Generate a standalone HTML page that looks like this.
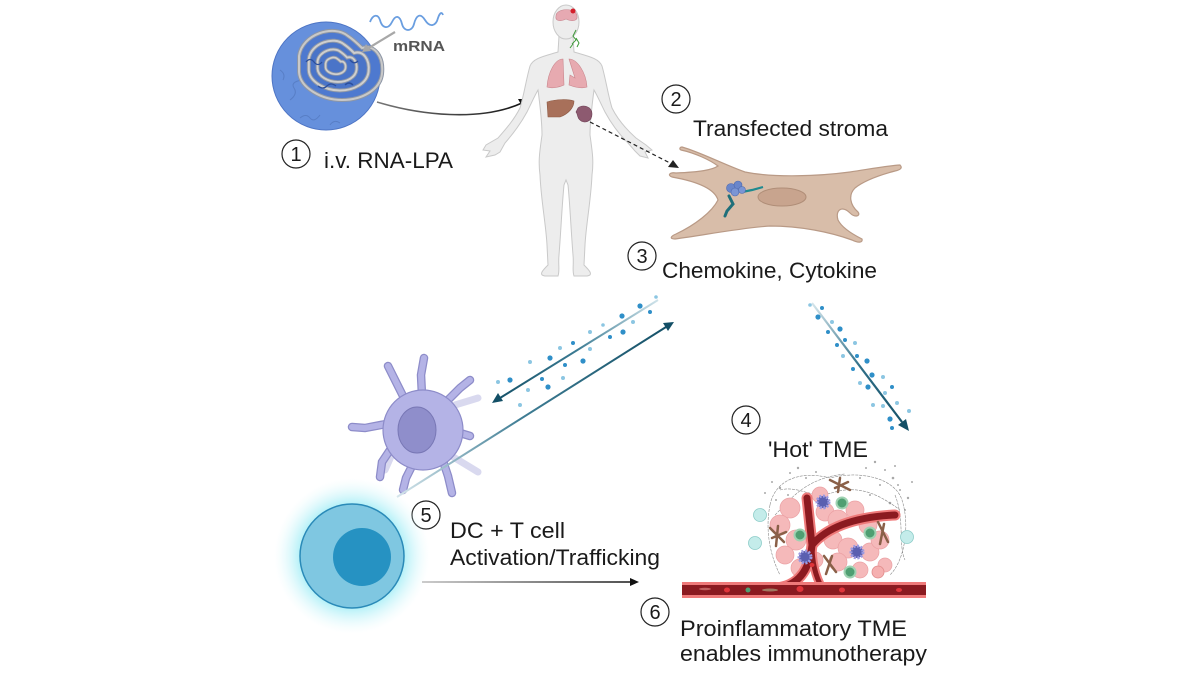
<!DOCTYPE html>
<html><head><meta charset="utf-8"><style>
html,body{margin:0;padding:0;background:#fff;}
svg{display:block;}
text{font-family:"Liberation Sans",Arial,sans-serif;fill:#1a1a1a;}
</style></head><body>
<svg width="1200" height="675" viewBox="0 0 1200 675" xmlns="http://www.w3.org/2000/svg">
<defs>
  <radialGradient id="glow" cx="0.5" cy="0.5" r="0.5">
    <stop offset="0.6" stop-color="#86e8f3" stop-opacity="0.85"/>
    <stop offset="0.8" stop-color="#b8f1f8" stop-opacity="0.45"/>
    <stop offset="1" stop-color="#e4fafc" stop-opacity="0"/>
  </radialGradient>
  <linearGradient id="gUp" gradientUnits="userSpaceOnUse" x1="658" y1="300" x2="493" y2="402">
    <stop offset="0" stop-color="#cfe3ea"/><stop offset="0.5" stop-color="#3a7a92"/><stop offset="1" stop-color="#134f66"/>
  </linearGradient>
  <linearGradient id="gLow" gradientUnits="userSpaceOnUse" x1="397" y1="497" x2="673" y2="323">
    <stop offset="0" stop-color="#d6e6ec"/><stop offset="0.45" stop-color="#3f7d94"/><stop offset="1" stop-color="#134f66"/>
  </linearGradient>
  <linearGradient id="gRight" gradientUnits="userSpaceOnUse" x1="812" y1="303" x2="908" y2="430">
    <stop offset="0" stop-color="#d6e6ec"/><stop offset="0.5" stop-color="#2f6f88"/><stop offset="1" stop-color="#134f66"/>
  </linearGradient>
  <linearGradient id="gHoriz" gradientUnits="userSpaceOnUse" x1="422" y1="582" x2="638" y2="582">
    <stop offset="0" stop-color="#bbbbbb"/><stop offset="1" stop-color="#111"/>
  </linearGradient>
  <linearGradient id="gCurve" gradientUnits="userSpaceOnUse" x1="377" y1="102" x2="527" y2="100">
    <stop offset="0" stop-color="#777"/><stop offset="1" stop-color="#111"/>
  </linearGradient>
  <path id="heart" d="M -35,-10 C -32,-32 0,-42 14,-30 C 20,-26 24,-22 28,-18 C 40,-22 50,-10 48,8 C 46,24 28,34 8,34 C -12,34 -34,22 -35,6 Z"/>
</defs>

<!-- ===== Nanoparticle ===== -->
<circle cx="326" cy="76" r="54" fill="#6690dc" stroke="#4d74c4" stroke-width="1"/>
<path d="M 290,100 q 8,-6 4,-12 t 8,-8 M 300,118 q 6,-5 10,0 t 10,-3 M 330,125 q 4,-6 10,-2 M 280,70 q 6,4 3,10" stroke="#4f73b8" stroke-width="1" fill="none" opacity="0.6"/>
<g transform="translate(334,66)">
  <use href="#heart" fill="#4e79cf" stroke="#8d96a6" stroke-width="4"/>
  <use href="#heart" fill="none" stroke="#c9c9c9" stroke-width="2"/>
  <g transform="scale(0.72)"><use href="#heart" fill="#4a74c8" stroke="#8d96a6" stroke-width="5.5"/><use href="#heart" fill="none" stroke="#cfcfcf" stroke-width="2.8"/></g>
  <g transform="scale(0.47)"><use href="#heart" fill="#4a74c8" stroke="#8d96a6" stroke-width="8"/><use href="#heart" fill="none" stroke="#cfcfcf" stroke-width="4"/></g>
  <g transform="scale(0.24)"><use href="#heart" fill="#4a74c8" stroke="#8d96a6" stroke-width="14"/><use href="#heart" fill="none" stroke="#cfcfcf" stroke-width="7"/></g>
</g>
<path d="M 306,62 q 4,-5 8,0 t 8,0 M 318,86 q 5,4 9,0 t 9,0 M 350,60 q 4,5 8,1 M 345,85 q 4,-4 8,0" stroke="#2c4f9c" stroke-width="1.3" fill="none"/>
<!-- mRNA -->
<path d="M 370,22 C 373,14 378,14 380,20 C 382,28 388,30 392,22 C 396,14 400,16 402,24 C 404,32 412,32 414,24 C 416,16 420,12 425,20 C 430,28 436,26 438,18 C 440,12 442,12 443,15" stroke="#6a9ee0" stroke-width="1.8" fill="none"/>
<line x1="395" y1="32" x2="367" y2="49" stroke="#a8a8a8" stroke-width="2.2"/>
<polygon points="362,52 366,44 371,51" fill="#a8a8a8"/>
<text x="393" y="51" font-size="15" font-weight="bold" style="fill:#555" textLength="52" lengthAdjust="spacingAndGlyphs">mRNA</text>

<!-- curved arrow to body -->
<path d="M 377,102 C 420,115 480,122 522,103" stroke="url(#gCurve)" stroke-width="1.6" fill="none"/>
<polygon points="529,99 518,99 523,108" fill="#111"/>

<!-- ===== Human body ===== -->
<path d="M 559,36 L 558,52 C 545,56 533,58 530,66 C 526,80 524,95 520,108 C 514,120 505,130 498,138 L 486,145 L 483,150 L 490,151 L 486,157 L 495,155 L 500,152 L 505,143 C 512,135 520,125 527,112 C 532,102 535,95 538,90 C 540,105 542,120 542,135 C 540,150 538,160 540,175 C 541,200 546,225 547,245 L 548,265 C 543,270 538,275 545,276 L 558,276 C 560,270 558,265 559,255 C 561,230 562,205 564,185 L 566,180 L 568,185 C 570,205 571,230 573,255 C 574,265 572,270 574,276 L 587,276 C 594,275 589,270 584,265 L 585,245 C 586,225 591,200 592,175 C 594,160 592,150 590,135 C 590,120 592,105 594,90 C 597,95 600,102 605,112 C 612,125 620,135 628,143 L 635,151 L 640,156 L 648,158 L 645,152 L 652,150 L 646,145 L 636,138 C 627,130 618,120 612,108 C 608,95 606,80 602,66 C 599,58 587,56 574,52 L 573,36 Z" fill="#ededed" stroke="#c9c9c9" stroke-width="1"/>
<ellipse cx="566" cy="22" rx="13" ry="17" fill="#ededed" stroke="#c9c9c9" stroke-width="1"/>
<path d="M 556,16 C 556,8 576,7 577,16 C 578,21 572,22 566,19 C 560,22 555,21 556,16 Z" fill="#e6a9b2" stroke="#c98892" stroke-width="0.6"/>
<circle cx="573" cy="11" r="2.5" fill="#d41e2a"/>
<path d="M 576,30 l -3,6 l 3,4 l -4,4 M 576,38 l 3,5 l -2,4 M 573,44 l -3,4" stroke="#3f9a3a" stroke-width="1" fill="none"/>
<path d="M 563,59 C 555,59 548,72 547,87 C 552,89 560,87 564,85 Z" fill="#e7aab0" stroke="#c9868d" stroke-width="0.6"/>
<path d="M 569,59 C 577,59 586,72 587,87 C 582,89 574,87 569,85 L 570,75 L 575,78 Z" fill="#e7aab0" stroke="#c9868d" stroke-width="0.6"/>
<path d="M 547,102 C 556,99 568,99 574,101 C 574,108 568,114 560,117 L 548,117 Z" fill="#a8705a" stroke="#8d5a45" stroke-width="0.6"/>
<path d="M 578,108 C 582,104 592,106 592,114 C 592,122 584,124 580,120 C 577,118 578,114 576,112 Z" fill="#8d5a70" stroke="#6e4055" stroke-width="0.6"/>
<line x1="590" y1="122" x2="672" y2="164" stroke="#222" stroke-width="1.2" stroke-dasharray="4,3"/>
<polygon points="679,168 668,167 673,160" fill="#222"/>

<!-- ===== Fibroblast ===== -->
<path d="M 682,147 C 700,152 725,165 745,172 C 775,178 820,176 850,172 C 870,169 885,166 900,165 C 903,168 900,170 895,171 C 880,175 865,180 855,188 C 848,195 850,205 858,212 C 861,216 855,218 850,213 C 842,205 835,210 838,220 C 842,228 852,234 862,239 C 863,243 858,243 852,240 C 830,232 800,226 770,226 C 740,228 705,235 675,239 C 669,239 671,236 676,234 C 695,225 712,212 718,200 C 715,190 700,182 672,177 C 667,175 670,172 676,173 C 700,172 712,170 718,166 C 710,160 695,153 681,150 C 679,149 680,147 682,147 Z" fill="#d8bda9" stroke="#b99a86" stroke-width="1.2"/>
<ellipse cx="782" cy="197" rx="24" ry="9" fill="#c8a48e" stroke="#b08e78" stroke-width="1"/>
<path d="M 729,196 L 733,204 L 727,211 L 725,216" stroke="#1f6f7a" stroke-width="3" fill="none" stroke-linecap="round"/>
<path d="M 742,192 L 752,190 L 763,187" stroke="#1f8a8f" stroke-width="2.2" fill="none"/>
<circle cx="731" cy="188" r="4.5" fill="#6a86cb" stroke="#4e69ad" stroke-width="0.6"/>
<circle cx="738" cy="185" r="4" fill="#6a86cb" stroke="#4e69ad" stroke-width="0.6"/>
<circle cx="735" cy="192" r="4" fill="#7b95d4" stroke="#4e69ad" stroke-width="0.6"/>
<circle cx="742" cy="190" r="3.5" fill="#7b95d4" stroke="#4e69ad" stroke-width="0.6"/>

<!-- ===== Number circles ===== -->
<g fill="#fff" stroke="#222" stroke-width="1.2">
  <circle cx="296" cy="154" r="14"/>
  <circle cx="676" cy="99" r="14"/>
  <circle cx="642" cy="256" r="14"/>
  <circle cx="746" cy="420" r="14"/>
  <circle cx="426" cy="515" r="14"/>
  <circle cx="655" cy="612" r="14"/>
</g>
<g font-size="20" text-anchor="middle">
  <text x="296" y="161">1</text>
  <text x="676" y="106">2</text>
  <text x="642" y="263">3</text>
  <text x="746" y="427">4</text>
  <text x="426" y="522">5</text>
  <text x="655" y="619">6</text>
</g>

<!-- ===== Labels ===== -->
<g font-size="22">
  <text x="324" y="168" textLength="129" lengthAdjust="spacingAndGlyphs">i.v. RNA-LPA</text>
  <text x="693" y="136" textLength="195" lengthAdjust="spacingAndGlyphs">Transfected stroma</text>
  <text x="662" y="278" textLength="215" lengthAdjust="spacingAndGlyphs">Chemokine, Cytokine</text>
  <text x="768" y="457" textLength="100" lengthAdjust="spacingAndGlyphs">'Hot' TME</text>
  <text x="450" y="538" textLength="115" lengthAdjust="spacingAndGlyphs">DC + T cell</text>
  <text x="450" y="565" textLength="210" lengthAdjust="spacingAndGlyphs">Activation/Trafficking</text>
  <text x="680" y="636" textLength="227" lengthAdjust="spacingAndGlyphs">Proinflammatory TME</text>
  <text x="680" y="661" textLength="247" lengthAdjust="spacingAndGlyphs">enables immunotherapy</text>
</g>

<!-- ===== T cell ===== -->
<circle cx="352" cy="556" r="78" fill="url(#glow)"/>
<circle cx="352" cy="556" r="52" fill="#7fc7e1" stroke="#2a8ab8" stroke-width="1.5"/>
<circle cx="362" cy="557" r="29" fill="#2692c2"/>

<!-- ===== DC ===== -->
<g stroke-linecap="round" fill="none">
  <g stroke="#d9d9ef" stroke-width="7">
    <path d="M 455,405 L 478,398"/><path d="M 450,455 L 478,472"/><path d="M 393,452 L 385,470"/>
  </g>
  <g stroke="#8d8cc9" stroke-width="8.5">
    <path d="M 422,395 L 421,375 L 424,358"/>
    <path d="M 405,400 L 395,380 L 388,366"/>
    <path d="M 446,402 L 460,388 L 470,380"/>
    <path d="M 386,424 L 365,428 L 352,427"/>
    <path d="M 392,447 L 382,462 L 380,477"/>
    <path d="M 414,462 L 406,478 L 403,490"/>
    <path d="M 442,458 L 448,476 L 452,493"/>
    <path d="M 460,433 L 470,436"/>
  </g>
  <g stroke="#b4b3e6" stroke-width="6">
    <path d="M 422,395 L 421,375 L 424,358"/>
    <path d="M 405,400 L 395,380 L 388,366"/>
    <path d="M 446,402 L 460,388 L 470,380"/>
    <path d="M 386,424 L 365,428 L 352,427"/>
    <path d="M 392,447 L 382,462 L 380,477"/>
    <path d="M 414,462 L 406,478 L 403,490"/>
    <path d="M 442,458 L 448,476 L 452,493"/>
    <path d="M 460,433 L 470,436"/>
  </g>
</g>
<circle cx="423" cy="430" r="40" fill="#b4b3e6" stroke="#8d8cc9" stroke-width="1.2"/>
<ellipse cx="417" cy="430" rx="19" ry="23" fill="#8f8ecb" stroke="#7877b5" stroke-width="1"/>

<!-- ===== Arrows ===== -->
<line x1="658" y1="300" x2="500" y2="398" stroke="url(#gUp)" stroke-width="2"/>
<polygon points="492,403 498,393 503,401" fill="#134f66"/>
<line x1="397" y1="497" x2="666" y2="327" stroke="url(#gLow)" stroke-width="2"/>
<polygon points="674,322 663,323 668,331" fill="#134f66"/>
<line x1="812" y1="303" x2="902" y2="422" stroke="url(#gRight)" stroke-width="2.2"/>
<polygon points="909,431 898,425 906,419" fill="#134f66"/>
<line x1="422" y1="582" x2="632" y2="582" stroke="url(#gHoriz)" stroke-width="1.5"/>
<polygon points="639,582 630,578 630,586" fill="#111"/>

<!-- dots -->
<g fill="#2f8fc8">
  <circle cx="640" cy="306" r="2.6"/><circle cx="622" cy="316" r="2.6"/><circle cx="623" cy="332" r="2.6"/>
  <circle cx="583" cy="361" r="2.6"/><circle cx="550" cy="358" r="2.6"/><circle cx="548" cy="387" r="2.6"/>
  <circle cx="510" cy="380" r="2.6"/><circle cx="610" cy="337" r="2"/><circle cx="573" cy="343" r="2"/>
  <circle cx="565" cy="365" r="2"/><circle cx="542" cy="379" r="2"/><circle cx="650" cy="312" r="2"/>
  <circle cx="818" cy="317" r="2.6"/><circle cx="840" cy="329" r="2.6"/><circle cx="867" cy="361" r="2.6"/>
  <circle cx="872" cy="375" r="2.6"/><circle cx="868" cy="387" r="2.6"/><circle cx="890" cy="419" r="2.6"/>
  <circle cx="822" cy="308" r="2"/><circle cx="828" cy="332" r="2"/><circle cx="845" cy="340" r="2"/>
  <circle cx="837" cy="345" r="2"/><circle cx="857" cy="356" r="2"/><circle cx="853" cy="369" r="2"/>
  <circle cx="892" cy="387" r="2"/><circle cx="892" cy="428" r="2"/>
</g>
<g fill="#8cc6e2">
  <circle cx="656" cy="297" r="1.8"/><circle cx="633" cy="322" r="2"/><circle cx="603" cy="325" r="1.8"/>
  <circle cx="590" cy="332" r="2"/><circle cx="590" cy="349" r="2"/><circle cx="560" cy="348" r="2"/>
  <circle cx="563" cy="378" r="2"/><circle cx="530" cy="362" r="2"/><circle cx="528" cy="390" r="2"/>
  <circle cx="498" cy="382" r="2"/><circle cx="520" cy="405" r="2"/>
  <circle cx="810" cy="305" r="1.8"/><circle cx="832" cy="322" r="2"/><circle cx="855" cy="343" r="2"/>
  <circle cx="843" cy="356" r="2"/><circle cx="883" cy="377" r="2"/><circle cx="860" cy="383" r="2"/>
  <circle cx="885" cy="393" r="2"/><circle cx="873" cy="405" r="2"/><circle cx="883" cy="406" r="2"/>
  <circle cx="897" cy="403" r="2"/><circle cx="909" cy="411" r="2"/>
</g>

<!-- ===== Tumour microenvironment ===== -->
<g fill="#a9a9a9">
  <circle cx="790" cy="473" r="1"/><circle cx="798" cy="468" r="1.2"/><circle cx="806" cy="478" r="1"/>
  <circle cx="780" cy="488" r="1.2"/><circle cx="772" cy="482" r="1"/><circle cx="788" cy="495" r="1"/>
  <circle cx="875" cy="462" r="1.2"/><circle cx="885" cy="470" r="1"/><circle cx="893" cy="478" r="1.3"/>
  <circle cx="900" cy="490" r="1"/><circle cx="908" cy="498" r="1.2"/><circle cx="880" cy="485" r="1"/>
  <circle cx="890" cy="503" r="1.3"/><circle cx="870" cy="495" r="1"/><circle cx="912" cy="482" r="1"/>
  <circle cx="860" cy="478" r="1"/><circle cx="895" cy="466" r="1"/><circle cx="905" cy="510" r="1"/>
  <circle cx="776" cy="500" r="1"/><circle cx="765" cy="493" r="1"/><circle cx="866" cy="468" r="1"/>
  <circle cx="898" cy="485" r="1"/><circle cx="816" cy="472" r="1"/>
</g>
<path d="M 770,505 C 775,480 800,470 830,478 C 860,470 895,478 902,500 C 910,525 905,560 890,575 M 770,505 C 765,530 770,555 780,575 M 780,490 C 800,485 810,500 835,492 C 860,485 880,495 900,510 M 775,515 C 790,500 805,478 845,474 M 895,495 C 905,520 898,545 905,560" stroke="#8a8a8a" stroke-width="0.6" fill="none" stroke-dasharray="3,1"/>
<g fill="#f5b9ba" stroke="#eba1a4" stroke-width="0.7">
  <circle cx="790" cy="508" r="10"/><circle cx="780" cy="525" r="10"/><circle cx="796" cy="540" r="10"/>
  <circle cx="785" cy="555" r="9"/><circle cx="800" cy="568" r="9"/><circle cx="825" cy="512" r="9"/>
  <circle cx="838" cy="520" r="10"/><circle cx="855" cy="510" r="9"/><circle cx="868" cy="525" r="9"/>
  <circle cx="833" cy="540" r="9"/><circle cx="848" cy="548" r="10"/><circle cx="870" cy="552" r="9"/>
  <circle cx="880" cy="540" r="9"/><circle cx="838" cy="562" r="9"/><circle cx="860" cy="570" r="8"/>
  <circle cx="815" cy="560" r="8"/><circle cx="820" cy="495" r="8"/><circle cx="885" cy="565" r="7"/>
</g>
<g fill="none" stroke-linecap="round">
  <path d="M 776,588 Q 808,585 812,545 L 807,498" stroke="#ef7a7a" stroke-width="11"/>
  <path d="M 822,588 Q 812,570 812,545" stroke="#ef7a7a" stroke-width="9"/>
  <path d="M 812,545 Q 835,518 895,515" stroke="#ef7a7a" stroke-width="11"/>
  <path d="M 776,588 Q 808,585 812,545 L 807,498" stroke="#8b1a20" stroke-width="7"/>
  <path d="M 822,588 Q 812,570 812,545" stroke="#8b1a20" stroke-width="5"/>
  <path d="M 812,545 Q 835,518 895,515" stroke="#8b1a20" stroke-width="7"/>
</g>
<g fill="#c4ecea" stroke="#8cccc8" stroke-width="0.8">
  <circle cx="760" cy="515" r="6.5"/><circle cx="755" cy="543" r="6.5"/><circle cx="907" cy="537" r="6.5"/>
</g>
<g fill="#4f9f72" stroke="#9fd2b2" stroke-width="2">
  <circle cx="842" cy="503" r="5.5"/><circle cx="800" cy="535" r="5.5"/><circle cx="870" cy="533" r="5.5"/><circle cx="850" cy="572" r="5.5"/>
</g>
<g fill="#5a5fb0" stroke="#9d9ae0" stroke-width="3" stroke-dasharray="2,1.5">
  <circle cx="823" cy="502" r="6"/><circle cx="805" cy="557" r="6"/><circle cx="857" cy="552" r="6"/>
</g>
<g stroke="#8a6048" stroke-width="2.5" stroke-linecap="round" fill="none">
  <path d="M 830,480 L 850,490 M 840,478 L 838,492 M 835,488 L 848,482"/>
  <path d="M 770,528 L 784,542 M 778,526 L 776,546 M 772,538 L 786,532"/>
  <path d="M 878,522 L 888,542 M 884,524 L 880,544"/>
  <path d="M 824,556 L 836,572 M 832,556 L 826,574"/>
</g>
<rect x="682" y="582" width="244" height="16" fill="#ef7a7a"/>
<rect x="682" y="585" width="244" height="10" fill="#8b1a20"/>
<g fill="#e0343a">
  <ellipse cx="727" cy="590" rx="3" ry="2.5"/><ellipse cx="800" cy="589" rx="3.5" ry="3"/><ellipse cx="842" cy="590" rx="3" ry="2.5"/>
  <ellipse cx="899" cy="590" rx="3" ry="2"/><ellipse cx="812" cy="565" rx="2.5" ry="2"/>
</g>
<circle cx="748" cy="590" r="2.5" fill="#4f9f72"/>
<ellipse cx="770" cy="590" rx="8" ry="1.5" fill="#a07860"/>
<ellipse cx="705" cy="589" rx="6" ry="1.2" fill="#c06060"/>
<circle cx="878" cy="572" r="6" fill="#f5b0b0" stroke="#e08a8a" stroke-width="0.8"/>
</svg>
</body></html>
